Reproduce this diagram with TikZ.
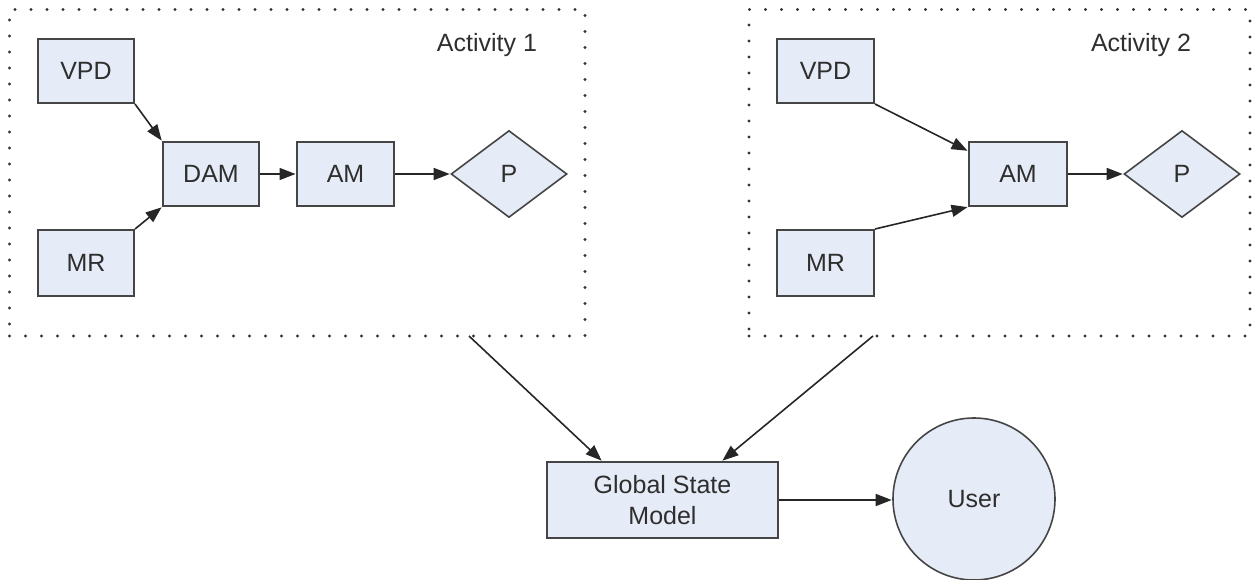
\documentclass[tikz,border=0pt]{standalone}
\usepackage{fontspec}
\setmainfont{Liberation Sans}
\usetikzlibrary{shapes.geometric,arrows.meta,calc}
\definecolor{boxfill}{HTML}{E6ECF7}
\definecolor{boxline}{HTML}{454545}
\definecolor{txt}{HTML}{2E2E2E}
\begin{document}
\begin{tikzpicture}[x=1pt,y=-1pt,
  every node/.style={font=\fontsize{25}{31}\selectfont, text=txt},
  blockbox/.style={draw=boxline, line width=2pt, fill=boxfill, inner sep=0pt,
    minimum width=96pt, minimum height=64pt, align=center},
  decision/.style={diamond, draw=boxline, line width=1.6pt, fill=boxfill, inner sep=0pt,
    minimum width=116pt, minimum height=87pt},
  actor/.style={circle, draw=boxline, line width=1.6pt, fill=boxfill, inner sep=0pt,
    minimum size=162pt},
  frame/.style={draw=black!80, line width=3.4pt, line cap=round,
    dash pattern=on 0pt off 16pt, inner sep=0pt},
  flow/.style={draw=black!85, line width=1.6pt,
    -{Triangle[length=16pt,width=12pt]}, shorten >=0.5pt}
]
\useasboundingbox (0,0) rectangle (1253,580);

% activity frames
\node[frame, minimum width=575.5pt, minimum height=326.5pt] (act1) at (297.25,172.75) {};
\node[frame, minimum width=501pt, minimum height=326.5pt] (act2) at (999.5,172.75) {};
\node (lab1) at (487,45) {Activity 1};
\node (lab2) at (1141,45) {Activity 2};

% activity 1
\node[blockbox] (vpd1) at (86,71) {VPD};
\node[blockbox, minimum height=66pt] (mr1) at (86,263) {MR};
\node[blockbox] (dam) at (211,174) {DAM};
\node[blockbox, minimum width=97pt] (am1) at (345.5,174) {AM};
\node[decision] (p1) at (509,174) {P};

% activity 2
\node[blockbox, minimum width=97pt] (vpd2) at (825.5,71) {VPD};
\node[blockbox, minimum width=97pt, minimum height=66pt] (mr2) at (825.5,263) {MR};
\node[blockbox, minimum width=98pt] (am2) at (1018,174) {AM};
\node[decision] (p2) at (1182,174) {P};

% global model and user
\node[blockbox, minimum width=231pt, minimum height=76pt] (gsm) at (662.5,500) {Global State\\Model};
\node[actor] (user) at (974,499) {User};

% connection points on the frames and the model box
\coordinate (out1) at (469,336);
\coordinate (out2) at (873,336);
\coordinate (in1) at ($(gsm.north west)+(56,0)$);
\coordinate (in2) at ($(gsm.north west)+(176,0)$);
\coordinate (am2in) at ($(am2.north west)+(0,10)$);

% connectors
\draw[flow] (vpd1.south east) -- (dam.north west);
\draw[flow] (mr1.north east) -- (dam.south west);
\draw[flow] (dam.east) -- (am1.west);
\draw[flow] (am1.east) -- (p1.west);

\draw[flow] (vpd2.south east) -- (am2in);
\draw[flow] (mr2.north east) -- (am2.south west);
\draw[flow] (am2.east) -- (p2.west);

\draw[flow] (out1) -- (in1);
\draw[flow] (out2) -- (in2);
\draw[flow] (gsm.east) -- (gsm.east -| user.west);
\end{tikzpicture}
\end{document}
